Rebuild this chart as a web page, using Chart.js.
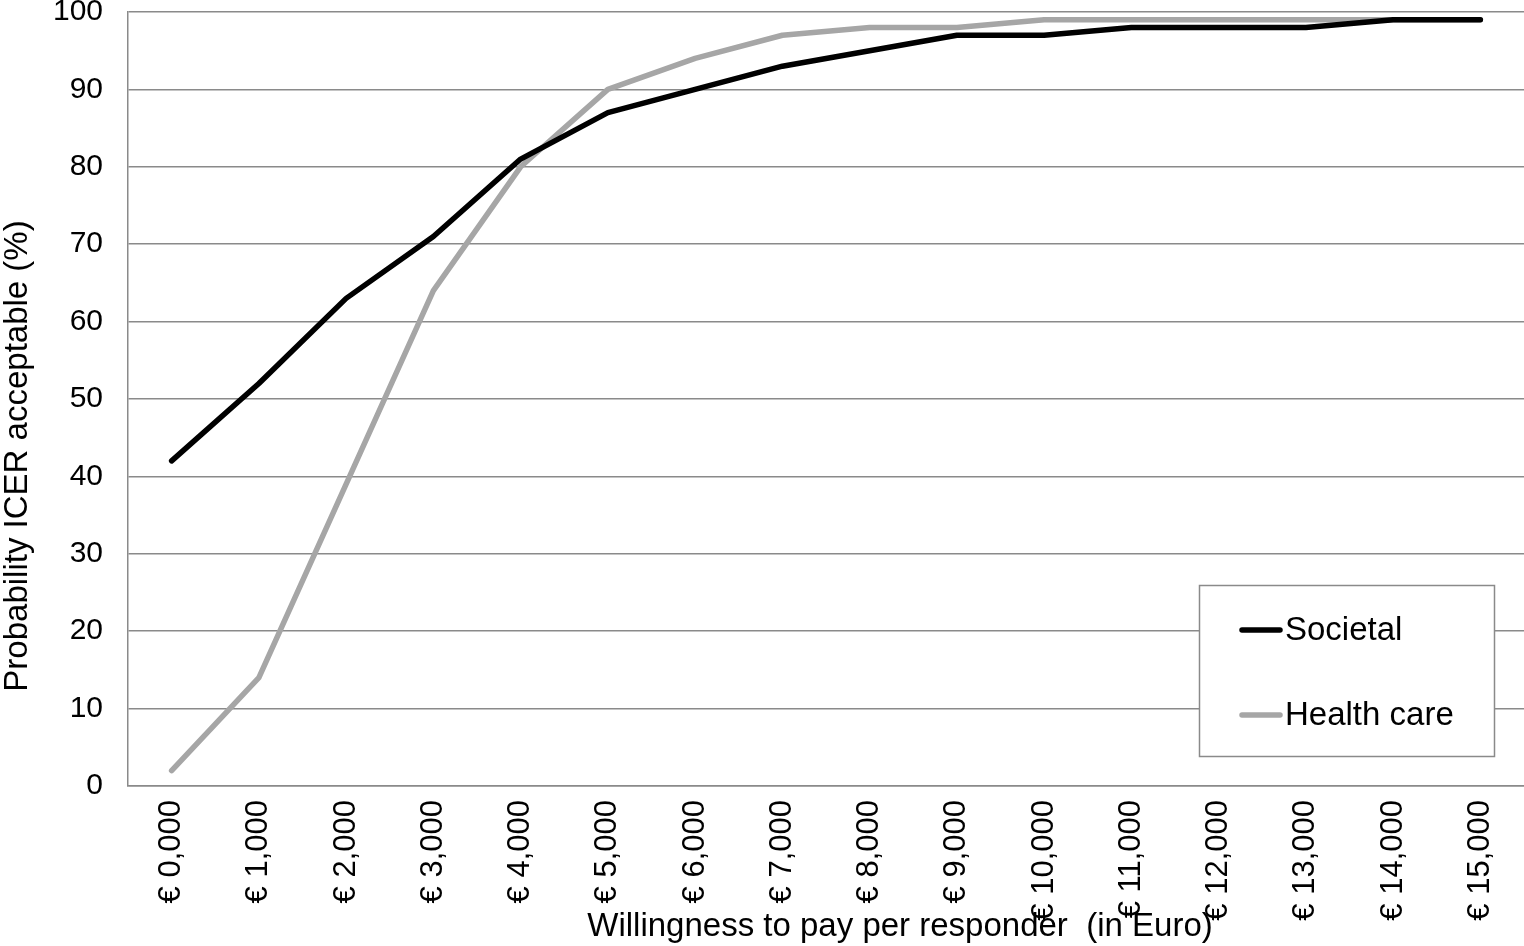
<!DOCTYPE html>
<html>
<head>
<meta charset="utf-8">
<script src="https://cdn.jsdelivr.net/npm/chart.js@4/dist/chart.umd.min.js"></script>
<style>
  html, body { margin: 0; padding: 0; background: #fff; }
  canvas { display: block; }
</style>
</head>
<body>
<canvas id="chart" width="1524" height="946"></canvas>
<script>
// x categories (willingness to pay)
const wtpLabels = ["€ 0,000", "€ 1,000", "€ 2,000", "€ 3,000", "€ 4,000", "€ 5,000", "€ 6,000", "€ 7,000",
  "€ 8,000", "€ 9,000", "€ 10,000", "€ 11,000", "€ 12,000", "€ 13,000", "€ 14,000", "€ 15,000"];

// probability ICER acceptable
const societal   = [42, 52, 63, 71, 81, 87, 90, 93, 95, 97, 97, 98, 98, 98, 99, 99];
const healthCare = [2, 14, 39, 64, 80, 90, 94, 97, 98, 98, 99, 99, 99, 99, 99, 99];

const yTicks = [0, 10, 20, 30, 40, 50, 60, 70, 80, 90, 100];

const FONT = "'Liberation Sans', Arial, sans-serif";
const GRID = "#8a8a8a";

// axis titles + boxed legend drawn by hand so they sit where the original has them
const extras = {
  id: "extras",
  afterDatasetsDraw(chart) {
    const ctx = chart.ctx;
    ctx.save();

    // legend box
    ctx.fillStyle = "#fff";
    ctx.fillRect(1199, 585, 296, 172);
    ctx.strokeStyle = GRID;
    ctx.lineWidth = 1.5;
    ctx.strokeRect(1199.5, 585.5, 295, 171);

    const items = [
      { text: "Societal", color: chart.data.datasets[0].borderColor, y: 630 },
      { text: "Health care", color: chart.data.datasets[1].borderColor, y: 715 }
    ];
    ctx.lineCap = "round";
    ctx.font = "33px " + FONT;
    ctx.textBaseline = "middle";
    ctx.textAlign = "left";
    items.forEach(it => {
      ctx.strokeStyle = it.color;
      ctx.lineWidth = 5.5;
      ctx.beginPath();
      ctx.moveTo(1242, it.y);
      ctx.lineTo(1280, it.y);
      ctx.stroke();
      ctx.fillStyle = "#000";
      ctx.fillText(it.text, 1285, it.y + 1);
    });

    // y title
    ctx.fillStyle = "#000";
    ctx.font = "33px " + FONT;
    ctx.textAlign = "center";
    ctx.translate(18, 456);
    ctx.rotate(-Math.PI / 2);
    ctx.fillText("Probability ICER acceptable (%)", 0, 0);
    ctx.restore();

    // x title
    ctx.save();
    ctx.fillStyle = "#000";
    ctx.font = "33px " + FONT;
    ctx.textAlign = "center";
    ctx.textBaseline = "middle";
    ctx.fillText("Willingness to pay per responder  (in Euro)", 900, 927);
    ctx.restore();
  }
};

new Chart(document.getElementById("chart"), {
  type: "line",
  data: {
    labels: wtpLabels,
    datasets: [
      {
        label: "Societal",
        data: societal,
        borderColor: "#000000",
        borderWidth: 5.5,
        pointRadius: 0,
        tension: 0,
        borderCapStyle: "round",
        borderJoinStyle: "round"
      },
      {
        label: "Health care",
        data: healthCare,
        borderColor: "#a6a6a6",
        borderWidth: 5.5,
        pointRadius: 0,
        tension: 0,
        borderCapStyle: "round",
        borderJoinStyle: "round"
      }
    ]
  },
  options: {
    responsive: false,
    animation: false,
    layout: { padding: { top: 12, right: 0, bottom: 0, left: 0 } },
    plugins: {
      legend: { display: false },
      tooltip: { enabled: false }
    },
    scales: {
      x: {
        offset: true,
        grid: { display: false, drawTicks: false },
        border: { display: true, color: GRID, width: 1.5 },
        ticks: {
          color: "#000",
          font: { family: FONT, size: 31 },
          minRotation: 90,
          maxRotation: 90,
          autoSkip: false,
          padding: 14
        },
        afterFit(s) {
          s.height = 160;
          s.paddingLeft = 0;
          s.paddingRight = 0;
        }
      },
      y: {
        min: 0,
        max: 100,
        afterBuildTicks(s) {
          s.ticks = yTicks.map(v => ({ value: v }));
        },
        grid: { color: GRID, lineWidth: 1.5, drawTicks: false },
        border: { display: true, color: GRID, width: 1.5 },
        ticks: {
          color: "#000",
          font: { family: FONT, size: 30, lineHeight: 1 },
          padding: 25
        },
        afterFit(s) {
          s.width = 128;
          s.paddingTop = 0;
          s.paddingBottom = 0;
        }
      }
    }
  },
  plugins: [extras]
});
</script>
</body>
</html>
